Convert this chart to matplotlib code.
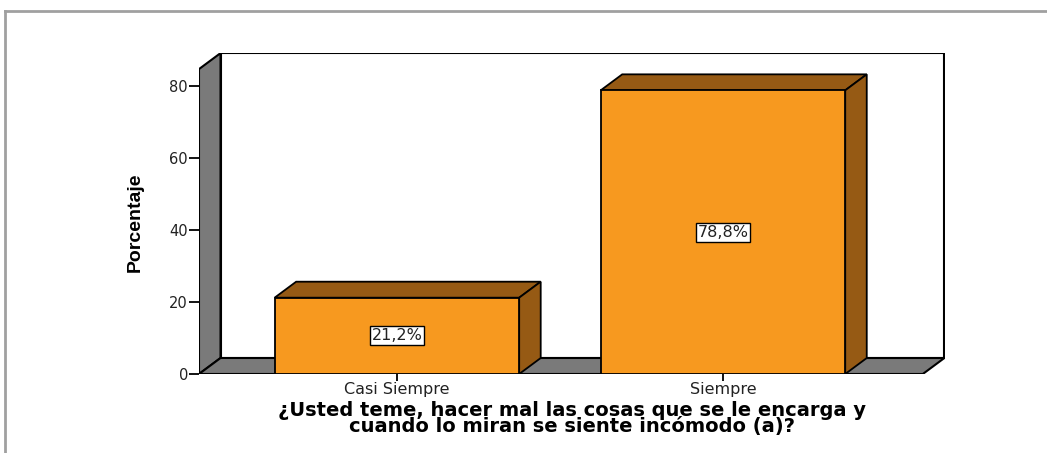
import matplotlib
matplotlib.use("Agg")
import matplotlib.pyplot as plt
from matplotlib.patches import Polygon
from matplotlib.lines import Line2D

categories = ["Casi Siempre", "Siempre"]
percentages = [21.2, 78.8]
value_labels = ["21,2%", "78,8%"]
y_ticks = [0, 20, 40, 60, 80]

xlabel = "¿Usted teme, hacer mal las cosas que se le encarga y\ncuando lo miran se siente incómodo (a)?"
ylabel = "Porcentaje"

front_col = "#F7991F"
dark_col = "#965A14"
wall_col = "#7A7A7A"

W, H = 1047, 453
fig = plt.figure(figsize=(W / 100, H / 100), dpi=100)

# axes placed so that value 0 sits on the front floor edge
ax = fig.add_axes([199 / W, 1 - 374 / H, (945 - 199) / W, (374 - 53) / H])
ax.set_xlim(-0.607, 1.681)
ax.set_ylim(0, 89.17)
for s in ax.spines.values():
    s.set_visible(False)

x0, x1 = -0.607, 1.613   # front floor edge
dx, dy = 0.066, 4.44     # depth offset
wall_top = 84.7
bar_w = 0.75

# back wall, left wall, floor
ax.add_patch(Polygon([(x0 + dx, dy), (x1 + dx, dy), (x1 + dx, wall_top + dy), (x0 + dx, wall_top + dy)],
                     closed=True, facecolor="white", edgecolor="black", lw=1.5, zorder=1))
ax.add_patch(Polygon([(x0, 0), (x0, wall_top), (x0 + dx, wall_top + dy), (x0 + dx, dy)],
                     closed=True, facecolor=wall_col, edgecolor="black", lw=1.5, zorder=2))
ax.add_patch(Polygon([(x0, 0), (x1, 0), (x1 + dx, dy), (x0 + dx, dy)],
                     closed=True, facecolor=wall_col, edgecolor="black", lw=1.5, zorder=2))

xs = list(range(len(categories)))
ax.bar(xs, percentages, width=bar_w, color=front_col, edgecolor="black", lw=1.3, zorder=4)
for x, v, lab in zip(xs, percentages, value_labels):
    l, r = x - bar_w / 2, x + bar_w / 2
    ax.add_patch(Polygon([(l, v), (r, v), (r + dx, v + dy), (l + dx, v + dy)],
                         closed=True, facecolor=dark_col, edgecolor="black", lw=1.3, zorder=3))
    ax.add_patch(Polygon([(r, 0), (r + dx, dy), (r + dx, v + dy), (r, v)],
                         closed=True, facecolor=dark_col, edgecolor="black", lw=1.3, zorder=3))
    ax.text(x, v / 2, lab, ha="center", va="center", fontsize=11.5, zorder=6, color="#222222",
            bbox=dict(boxstyle="square,pad=0.12", facecolor="white", edgecolor="black", lw=1))

ax.set_yticks(y_ticks)
ax.set_yticklabels([str(t) for t in y_ticks], fontsize=10.5, color="#222222")
ax.set_xticks(xs)
ax.set_xticklabels(categories, fontsize=11.5, color="#222222")
ax.tick_params(axis="y", length=7, width=1.3, pad=1, colors="black", labelcolor="#222222")
ax.tick_params(axis="x", length=5, width=1.3, pad=0.5, colors="black", labelcolor="#222222")

ax.set_ylabel(ylabel, family="Liberation Sans", fontweight="bold", fontsize=14)
ax.yaxis.set_label_coords(-0.074, 0.474)
ax.set_xlabel(xlabel, fontweight="bold", fontsize=14, linespacing=0.82, labelpad=3)

# outer frame lines
fig.add_artist(Line2D([5 / W, 1], [1 - 11 / H] * 2, color="#A0A0A0", lw=2))
fig.add_artist(Line2D([5 / W] * 2, [0, 1 - 11 / H], color="#A0A0A0", lw=2))

fig.savefig("out.png", dpi=100, facecolor="white")
